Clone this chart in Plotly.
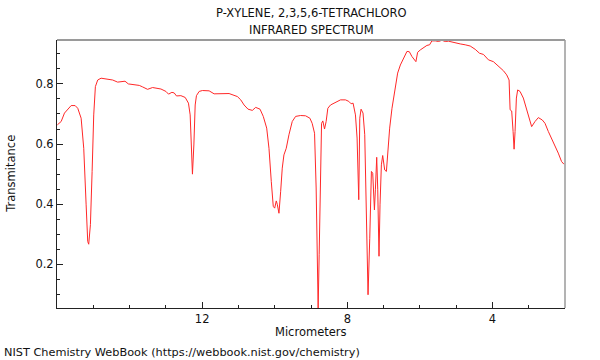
import plotly.graph_objects as go

# Wavelength (micrometers) and transmittance
wavelength_um = [
    15.99, 15.885, 15.794, 15.703, 15.610, 15.500, 15.428, 15.335, 15.263, 15.197,
    15.153, 15.126, 15.079, 15.032, 14.988, 14.942, 14.878, 14.785, 14.603, 14.466,
    14.329, 14.235, 14.125, 14.034, 13.869, 13.732, 13.641, 13.504, 13.366, 13.135,
    12.998, 12.926, 12.833, 12.770, 12.707, 12.586, 12.467, 12.377, 12.330, 12.294,
    12.267, 12.228, 12.192, 12.157, 12.082, 11.992, 11.808, 11.670, 11.486, 11.258,
    11.029, 10.936, 10.845, 10.735, 10.617, 10.524, 10.405, 10.315, 10.221, 10.158,
    10.095, 10.040, 10.001, 9.957, 9.930, 9.883, 9.836, 9.792, 9.746, 9.682,
    9.608, 9.517, 9.424, 9.287, 9.149, 9.031, 8.968, 8.902, 8.858, 8.830,
    8.803, 8.775, 8.737, 8.709, 8.674, 8.627, 8.583, 8.536, 8.462, 8.324,
    8.187, 8.050, 7.959, 7.895, 7.840, 7.775, 7.730, 7.684, 7.656, 7.620,
    7.566, 7.519, 7.483, 7.428, 7.381, 7.335, 7.299, 7.252, 7.225, 7.189,
    7.161, 7.126, 7.098, 7.060, 7.024, 6.969, 6.922, 6.878, 6.832, 6.768,
    6.702, 6.647, 6.612, 6.537, 6.447, 6.356, 6.290, 6.218, 6.109, 6.062,
    5.988, 5.897, 5.806, 5.732, 5.669, 5.575, 5.485, 5.394, 5.300, 5.210,
    5.119, 5.025, 4.888, 4.750, 4.613, 4.475, 4.357, 4.247, 4.110, 3.973,
    3.835, 3.698, 3.607, 3.541, 3.513, 3.469, 3.431, 3.403, 3.376, 3.340,
    3.304, 3.239, 3.148, 3.057, 2.991, 2.919, 2.826, 2.735, 2.625, 2.551,
    2.460, 2.370, 2.276, 2.186, 2.095, 2.029,
]
transmittance = [
    0.664, 0.675, 0.703, 0.716, 0.728, 0.728, 0.719, 0.686, 0.586, 0.398,
    0.276, 0.267, 0.332, 0.509, 0.697, 0.791, 0.813, 0.819, 0.817, 0.813,
    0.806, 0.808, 0.809, 0.800, 0.797, 0.795, 0.790, 0.782, 0.788, 0.783,
    0.775, 0.766, 0.772, 0.770, 0.760, 0.761, 0.755, 0.736, 0.697, 0.597,
    0.500, 0.597, 0.730, 0.761, 0.775, 0.778, 0.777, 0.767, 0.767, 0.768,
    0.758, 0.747, 0.730, 0.716, 0.712, 0.722, 0.716, 0.692, 0.653, 0.586,
    0.476, 0.393, 0.387, 0.411, 0.400, 0.370, 0.443, 0.520, 0.564, 0.586,
    0.631, 0.675, 0.692, 0.695, 0.694, 0.686, 0.669, 0.636, 0.454, 0.232,
    0.055, 0.232, 0.586, 0.669, 0.677, 0.650, 0.675, 0.719, 0.730, 0.739,
    0.747, 0.747, 0.742, 0.734, 0.736, 0.697, 0.620, 0.415, 0.686, 0.716,
    0.703, 0.631, 0.398, 0.099, 0.287, 0.509, 0.503, 0.381, 0.450, 0.556,
    0.450, 0.227, 0.398, 0.531, 0.562, 0.514, 0.509, 0.586, 0.653, 0.719,
    0.770, 0.808, 0.836, 0.863, 0.883, 0.908, 0.907, 0.891, 0.874, 0.905,
    0.913, 0.921, 0.928, 0.930, 0.943, 0.943, 0.941, 0.945, 0.941, 0.942,
    0.939, 0.938, 0.933, 0.930, 0.926, 0.915, 0.902, 0.898, 0.880, 0.874,
    0.858, 0.844, 0.830, 0.813, 0.714, 0.710, 0.642, 0.583, 0.642, 0.753,
    0.780, 0.775, 0.753, 0.714, 0.680, 0.658, 0.675, 0.688, 0.680, 0.669,
    0.642, 0.620, 0.592, 0.570, 0.542, 0.533,
]

x_ticks = [12, 8, 4]
y_ticks = [0.2, 0.4, 0.6, 0.8]

title_line1 = "P-XYLENE, 2,3,5,6-TETRACHLORO"
title_line2 = "INFRARED SPECTRUM"
x_label = "Micrometers"
y_label = "Transmitance"
credit = "NIST Chemistry WebBook (https://webbook.nist.gov/chemistry)"

FONT = "DejaVu Sans"
FS = 11.5

fig = go.Figure()
fig.add_trace(go.Scatter(
    x=wavelength_um, y=transmittance, mode="lines",
    line=dict(color="rgb(255,40,40)", width=1),
    hoverinfo="skip", showlegend=False,
))

fig.update_layout(
    width=600, height=360,
    margin=dict(l=57, r=35, t=40, b=52),
    paper_bgcolor="white", plot_bgcolor="white",
    font=dict(family=FONT, size=FS, color="#111"),
    xaxis=dict(
        range=[16, 2], tickvals=x_ticks, ticks="inside", ticklen=6,
        tickcolor="#222", showgrid=False, zeroline=False,
        showline=True, linecolor="#222", linewidth=1,
        minor=dict(dtick=1, ticks="inside", ticklen=3, tickcolor="#222", showgrid=False),
        tickfont=dict(size=FS),
    ),
    yaxis=dict(
        range=[0.055, 0.946], tickvals=y_ticks, ticks="inside", ticklen=6,
        tickcolor="#222", showgrid=False, zeroline=False,
        showline=True, linecolor="#222", linewidth=1,
        minor=dict(dtick=0.05, ticks="inside", ticklen=3, tickcolor="#222", showgrid=False),
        tickformat=".1f", tickfont=dict(size=FS),
    ),
    shapes=[
        dict(type="line", xref="paper", yref="paper", x0=0, x1=1, y0=1, y1=1,
             line=dict(color="#9a9a9a", width=2)),
        dict(type="line", xref="paper", yref="paper", x0=1, x1=1, y0=0, y1=1,
             line=dict(color="#9a9a9a", width=1.5)),
    ],
    annotations=[
        dict(text=title_line1, xref="paper", yref="paper", x=0.5, y=1.0996,
             xanchor="center", yanchor="middle", showarrow=False, font=dict(size=FS)),
        dict(text=title_line2, xref="paper", yref="paper", x=0.5, y=1.036,
             xanchor="center", yanchor="middle", showarrow=False, font=dict(size=FS)),
        dict(text=x_label, xref="paper", yref="paper", x=0.5, y=-0.0907,
             xanchor="center", yanchor="middle", showarrow=False, font=dict(size=FS)),
        dict(text=y_label, xref="paper", yref="paper", x=-0.0896, y=0.5026,
             xanchor="center", yanchor="middle", showarrow=False, textangle=-90,
             font=dict(size=FS)),
        dict(text=credit, xref="paper", yref="paper", x=-0.1073, y=-0.1653,
             xanchor="left", yanchor="middle", showarrow=False, font=dict(size=11.3)),
    ],
)

fig.write_html("out.html", config={"displayModeBar": False},
               post_script="document.body.style.margin='0';")
